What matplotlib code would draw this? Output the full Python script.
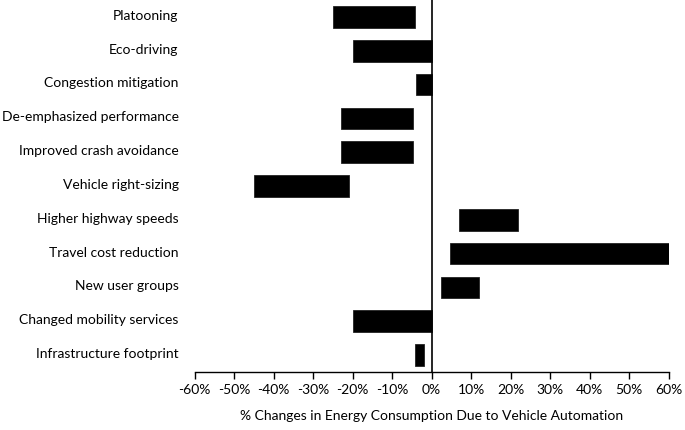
import matplotlib
matplotlib.use("Agg")
import matplotlib.pyplot as plt
import matplotlib.transforms as mtransforms

categories = ["Platooning", "Eco-driving", "Congestion mitigation",
              "De-emphasized performance", "Improved crash avoidance",
              "Vehicle right-sizing", "Higher highway speeds",
              "Travel cost reduction", "New user groups",
              "Changed mobility services", "Infrastructure footprint"]
low = [-25, -20, -4, -23, -23, -45, 7, 4.7, 2.3, -20, -4.3]
high = [-4.2, 0, 0, -4.7, -4.7, -21, 22, 60, 12, 0, -2]
xticks = [-60, -50, -40, -30, -20, -10, 0, 10, 20, 30, 40, 50, 60]
xlabel = "% Changes in Energy Consumption Due to Vehicle Automation"

plt.rcParams['font.family'] = ['Lato', 'DejaVu Sans']

fig = plt.figure(figsize=(6.85, 4.3), dpi=100)
ax = fig.add_axes([0.284, 0.135, 0.692, 0.865])

ypos = list(range(len(categories)))
widths = [h - l for l, h in zip(low, high)]
ax.barh(ypos, widths, left=low, height=0.64, color="black", edgecolor="#222222", linewidth=0.6)
ax.axvline(0, color="black", linewidth=1.2, zorder=3)

ax.set_xlim(-60, 60)
ax.set_ylim(len(categories) - 0.5, -0.5)
ax.set_xticks(xticks)
ax.set_xticklabels([f"{v}%" for v in xticks], fontsize=10)
ax.set_yticks(ypos)
ax.set_yticklabels(categories, fontsize=10)
ax.tick_params(axis="y", length=0, pad=11.5)
ax.tick_params(axis="x", length=5, width=1, direction="out", pad=4, color="black")
for s in ["left", "right", "top"]:
    ax.spines[s].set_visible(False)
ax.spines["bottom"].set_linewidth(1)
ax.set_xlabel(xlabel, fontsize=10, labelpad=10)

offset = mtransforms.ScaledTranslation(0, 1.5 / 72, fig.dpi_scale_trans)
for lab in ax.get_yticklabels():
    lab.set_transform(lab.get_transform() + offset)

fig.savefig("out.png", dpi=100)
